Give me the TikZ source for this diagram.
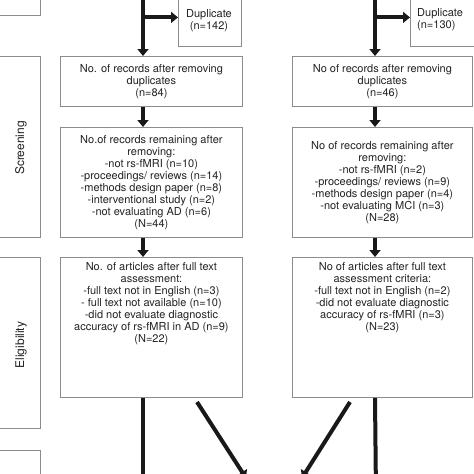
\documentclass[tikz,border=0pt]{standalone}
\usepackage{fontspec}
\setmainfont{TeX Gyre Heros}
\usetikzlibrary{arrows.meta,calc}
\begin{document}
\begin{tikzpicture}[x=1pt, y=-1pt,
    box/.style={draw=myedge, line width=0.8pt, fill=white, inner sep=0pt},
    txt/.style={text=mytxt, align=center, inner sep=0pt, font=\fontsize{11}{12}\selectfont},
    stage/.style={text=mytxt, font=\fontsize{12}{14}\selectfont, rotate=90},
    flow/.style={draw=myarr, line width=4pt, -{Triangle[length=7pt,width=11pt]}}]
    \definecolor{myedge}{RGB}{140,140,140}
    \definecolor{mytxt}{RGB}{35,35,35}
    \definecolor{myarr}{RGB}{25,25,25}

    \useasboundingbox (0,0) rectangle (474,474);
    \clip (0,0) rectangle (474,474);

    % stage boxes on the left
    \node[box, minimum width=46pt, minimum height=40pt, anchor=north west] (idBox) at (-6,-25) {};
    \node[box, minimum width=46pt, minimum height=181pt, anchor=north west] (scrBox) at (-6,56) {};
    \node[stage] (scrLab) at (21,148) {Screening};
    \node[box, minimum width=46pt, minimum height=171pt, anchor=north west] (eliBox) at (-6,257) {};
    \node[stage] (eliLab) at (21,345) {Eligibility};
    \node[box, minimum width=46pt, minimum height=40pt, anchor=north west] (incBox) at (-6,450) {};

    % left column (AD)
    \node[box, minimum width=63pt, minimum height=58pt, anchor=north west] (dupL) at (178,-12) {};
    \node[txt] (dupLt) at (209,21) {Duplicate\\(n=142)};
    \node[box, txt, minimum width=182pt, minimum height=50pt, anchor=north west] (recL) at (60,56)
        {No. of records after removing\\duplicates\\(n=84)};
    \node[box, txt, minimum width=182pt, minimum height=110pt, anchor=north west] (scrL) at (60,127)
        {No.of records remaining after\\removing:\\-not rs-fMRI (n=10)\\-proceedings/ reviews (n=14)\\
         -methods design paper (n=8)\\-interventional study (n=2)\\-not evaluating AD (n=6)\\(N=44)};
    \node[box, minimum width=182pt, minimum height=140pt, anchor=north west] (eliL) at (60,257) {};
    \node[txt, anchor=north] (eliLt) at ($(eliL.north)+(0,5)$)
        {No. of articles after full text\\assessment:\\-full text not in English (n=3)\\
         - full text not available (n=10)\\-did not evaluate diagnostic\\
         accuracy of rs-fMRI in AD (n=9)\\(N=22)};

    % right column (MCI)
    \node[box, minimum width=70pt, minimum height=58pt, anchor=north west] (dupR) at (410,-12) {};
    \node[txt, anchor=north west, align=left] (dupRt) at (417,8) {Duplicate\\(n=130)};
    \node[box, txt, minimum width=180pt, minimum height=50pt, anchor=north west] (recR) at (292,56)
        {No of records after removing\\duplicates\\(n=46)};
    \node[box, txt, minimum width=180pt, minimum height=110pt, anchor=north west] (scrR) at (292,127)
        {No of records remaining after\\removing:\\-not rs-fMRI (n=2)\\-proceedings/ reviews (n=9)\\
         -methods design paper (n=4)\\-not evaluating MCI (n=3)\\(N=28)};
    \node[box, minimum width=180pt, minimum height=140pt, anchor=north west] (eliR) at (292,257) {};
    \node[txt, anchor=north] (eliRt) at ($(eliR.north)+(0,5)$)
        {No of articles after full text\\assessment criteria:\\-full text not in English (n=2)\\
         -did not evaluate diagnostic\\accuracy of rs-fMRI (n=3)\\(N=23)};

    % connectors
    \coordinate (srcL) at (143,-10);
    \coordinate (srcR) at (375,-10);
    \coordinate (endL) at (143,495);
    \coordinate (endR) at (376,495);
    \coordinate (fromL) at (197,402);
    \coordinate (fromR) at (350,402);
    \coordinate (toL) at (246,478);
    \coordinate (toR) at (302,478);

    \draw[flow] (srcL) -- (srcL |- recL.north);
    \draw[flow] (srcL |- dupL.west) -- (dupL.west);
    \draw[flow] (srcL |- recL.south) -- (srcL |- scrL.north);
    \draw[flow] (srcL |- scrL.south) -- (srcL |- eliL.north);
    \draw[flow] (srcL |- eliL.south) -- (endL);
    \draw[flow] (fromL) -- (toL);

    \draw[flow] (srcR) -- (srcR |- recR.north);
    \draw[flow] (srcR |- dupR.west) -- (dupR.west);
    \draw[flow] (srcR |- recR.south) -- (srcR |- scrR.north);
    \draw[flow] (srcR |- scrR.south) -- (srcR |- eliR.north);
    \draw[flow] (srcR |- eliR.south) -- (endR);
    \draw[flow] (fromR) -- (toR);
\end{tikzpicture}
\end{document}
